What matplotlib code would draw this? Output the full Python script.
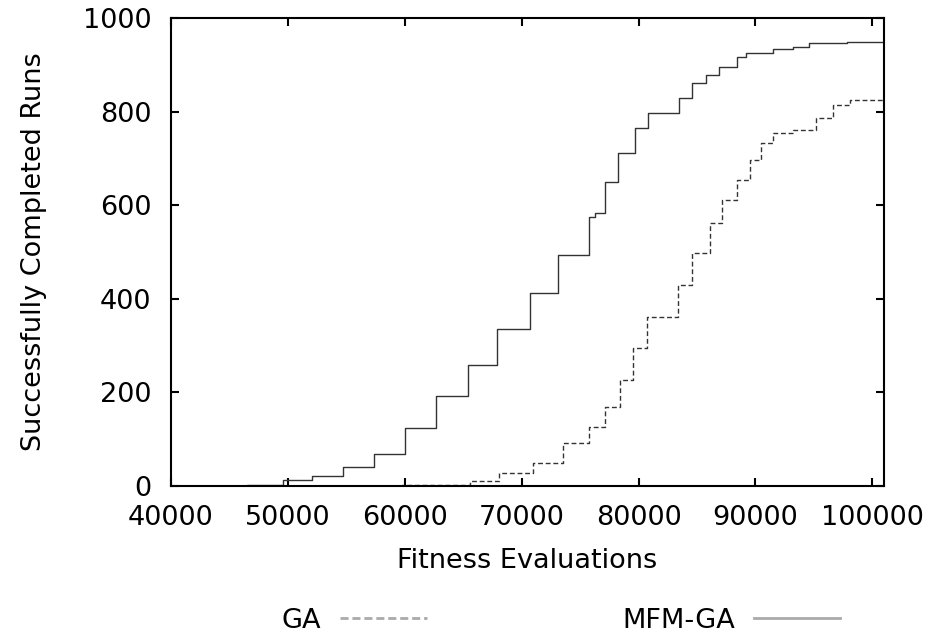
import matplotlib.pyplot as plt
from matplotlib.lines import Line2D

# step breakpoints (value holds from x[i] to x[i+1])
mfm_x = [40000, 46500, 49600, 52100, 54700, 57400, 60000, 62700, 65400, 67900,
         70700, 73100, 75800, 76300, 77100, 78200, 79700, 80800, 83500, 84600,
         85800, 86900, 88400, 89200, 91500, 93200, 94600, 97800, 101000]
mfm_y = [0, 3, 13, 21, 40, 68, 124, 193, 259, 335,
         412, 494, 575, 583, 650, 711, 765, 797, 829, 861,
         878, 896, 917, 926, 933, 939, 946, 949, 953]

ga_x = [40000, 54700, 59800, 65600, 68100, 71000, 73500, 75800, 77100, 78400,
        79500, 80700, 83400, 84600, 86100, 87100, 88400, 89500, 90500, 91500,
        93200, 95200, 96600, 98100, 101000]
ga_y = [0, 1, 3, 10, 28, 50, 91, 126, 169, 226,
        295, 362, 430, 498, 562, 611, 654, 697, 733, 754,
        761, 786, 814, 825, 833]

x_ticks = [40000, 50000, 60000, 70000, 80000, 90000, 100000]
y_ticks = [0, 200, 400, 600, 800, 1000]

plt.rcParams['font.family'] = ['DejaVu Sans']
fs = 19.5

fig = plt.figure(figsize=(9.31, 6.33), dpi=100)
ax = fig.add_axes([0.1837, 0.2322, 0.7658, 0.7394])

ax.step(ga_x, ga_y, where='post', color='#333333', lw=1.0, ls=(0, (3.5, 2)))
ax.step(mfm_x, mfm_y, where='post', color='#333333', lw=1.0)

ax.set_xlim(40000, 101000)
ax.set_ylim(0, 1000)
ax.set_xticks(x_ticks)
ax.set_yticks(y_ticks)
ax.tick_params(direction='in', length=6, width=1.5, top=True, right=True,
               labelsize=fs, pad=14)
for s in ax.spines.values():
    s.set_linewidth(1.5)

ax.set_xlabel('Fitness Evaluations', fontsize=fs, labelpad=12)
ax.set_ylabel('Successfully Completed Runs', fontsize=fs, labelpad=26)

# legend below the plot, text before the line sample
handles = [Line2D([], [], color='#aaaaaa', lw=2, ls=(0, (2.9, 1.4))),
           Line2D([], [], color='#aaaaaa', lw=2)]
fig.legend(handles, ['GA', 'MFM-GA'], loc='center', bbox_to_anchor=(0.6026, 0.019),
           ncol=2, markerfirst=False, frameon=False, fontsize=fs,
           handlelength=3.2, columnspacing=7.2, handletextpad=0.7,
           borderpad=0)

fig.savefig('out.png', dpi=100)
